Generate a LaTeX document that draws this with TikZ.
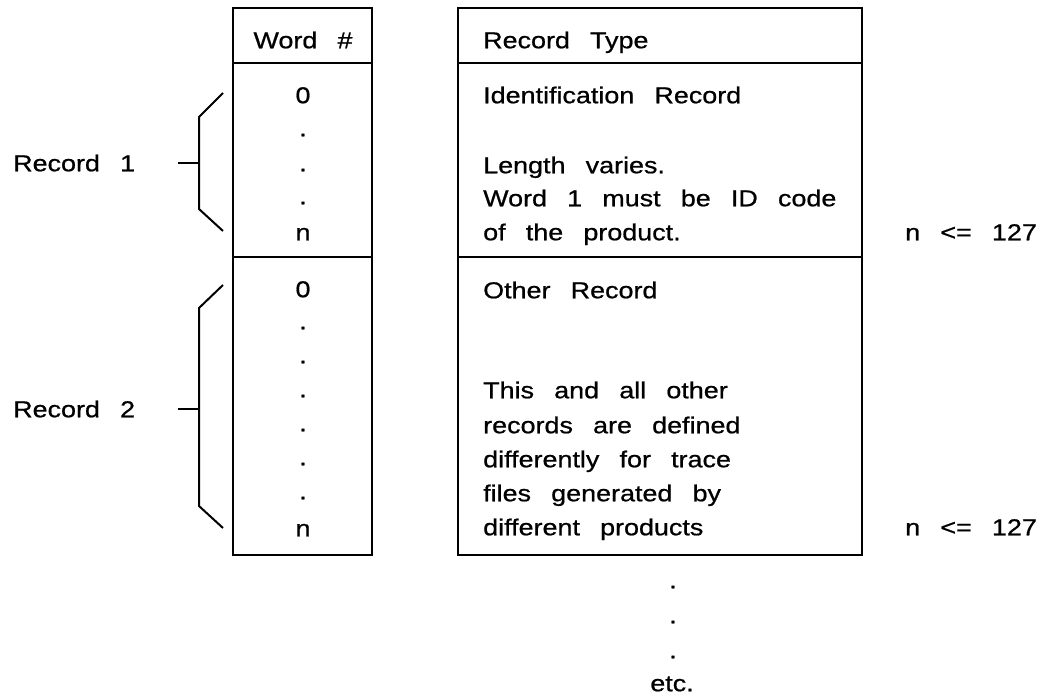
\documentclass[tikz,border=0pt]{standalone}
\usepackage{fontspec}
\setmainfont{Liberation Sans}[FakeStretch=1.17,WordSpace=2.7,FakeBold=0.8]
\begin{document}
\begin{tikzpicture}[x=1pt,y=-1pt,
  cell/.style={draw,line width=2.2pt,minimum width=#1,inner sep=0pt},
  txt/.style={font=\fontsize{23}{27}\selectfont,inner sep=0pt,text height=16.5pt,text depth=0pt},
  lt/.style={txt,anchor=west},
  brace/.style={line width=2pt,line join=miter}]
\useasboundingbox (0,0) rectangle (1059,696);
% cells
\node[cell=139pt,minimum height=55pt] (wordHdr) at (302.5,35.5) {};
\node[cell=139pt,minimum height=194pt] (word1) at (302.5,160) {};
\node[cell=139pt,minimum height=298pt] (word2) at (302.5,406) {};
\node[cell=404pt,minimum height=55pt] (typeHdr) at (660,35.5) {};
\node[cell=404pt,minimum height=194pt] (type1) at (660,160) {};
\node[cell=404pt,minimum height=298pt] (type2) at (660,406) {};
% headers
\node[txt] (wh) at (303,40) {Word \#};
\node[lt] (th) at (483,40) {Record Type};
% left column record 1
\node[txt] (w10) at (303,95) {0};
\node[txt] (w1a) at (303,128) {.};
\node[txt] (w1b) at (303,163) {.};
\node[txt] (w1c) at (303,196) {.};
\node[txt] (w1n) at (303,232) {n};
% left column record 2
\node[txt] (w20) at (303,289) {0};
\node[txt] (w2a) at (303,321) {.};
\node[txt] (w2b) at (303,355) {.};
\node[txt] (w2c) at (303,389) {.};
\node[txt] (w2d) at (303,423) {.};
\node[txt] (w2e) at (303,457) {.};
\node[txt] (w2f) at (303,491) {.};
\node[txt] (w2n) at (303,528) {n};
% right column
\node[lt] (r1a) at (483,95) {Identification Record};
\node[lt] (r1b) at (483,165) {Length varies.};
\node[lt] (r1c) at (483,198) {Word 1 must be ID code};
\node[lt] (r1d) at (483,232) {of the product.};
\node[lt] (r2a) at (483,290) {Other Record};
\node[lt] (r2b) at (483,390) {This and all other};
\node[lt] (r2c) at (483,425) {records are defined};
\node[lt] (r2d) at (483,459) {differently for trace};
\node[lt] (r2e) at (483,493) {files generated by};
\node[lt] (r2f) at (483,527) {different products};
% limits
\node[lt] (lim1) at (905,232) {n <= 127};
\node[lt] (lim2) at (905,527) {n <= 127};
% record labels
\node[lt] (rec1) at (13,163) {Record 1};
\node[lt] (rec2) at (13,409) {Record 2};
% braces
\coordinate (b1t) at (223,93);
\coordinate (b1b) at (223,231);
\coordinate (b1m) at (178,163);
\draw[brace] (b1t) -- (199,117) -- (199,209) -- (b1b);
\draw[brace] (b1m) -- (199,163);
\coordinate (b2t) at (223,285);
\coordinate (b2b) at (223,528);
\coordinate (b2m) at (178,409);
\draw[brace] (b2t) -- (199,308) -- (199,506) -- (b2b);
\draw[brace] (b2m) -- (199,409);
% etc
\node[txt] (e1) at (673,580) {.};
\node[txt] (e2) at (673,615) {.};
\node[txt] (e3) at (673,650) {.};
\node[txt] (etc) at (672,683) {etc.};
\end{tikzpicture}
\end{document}
